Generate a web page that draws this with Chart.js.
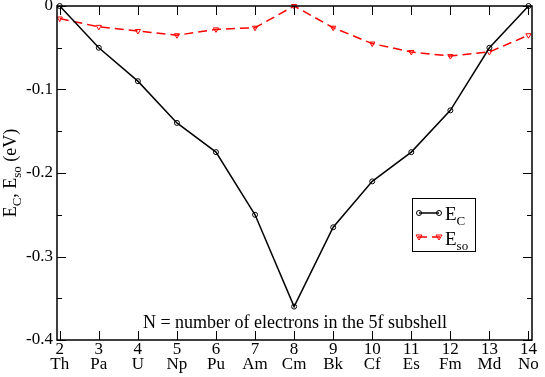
<!DOCTYPE html>
<html>
<head>
<meta charset="utf-8">
<script src="https://cdn.jsdelivr.net/npm/chart.js@4/dist/chart.umd.min.js"></script>
<style>
  html, body { margin: 0; padding: 0; background: #fff; }
  #wrap { width: 545px; height: 377px; }
</style>
</head>
<body>
<div id="wrap"><canvas id="myChart"></canvas></div>
<script>
// data
const nValues = [2, 3, 4, 5, 6, 7, 8, 9, 10, 11, 12, 13, 14];
const elements = ['Th', 'Pa', 'U', 'Np', 'Pu', 'Am', 'Cm', 'Bk', 'Cf', 'Es', 'Fm', 'Md', 'No'];
const eC = [0, -0.05, -0.09, -0.14, -0.175, -0.25, -0.36, -0.265, -0.21, -0.175, -0.125, -0.05, 0];
const eSo = [-0.015, -0.025, -0.03, -0.035, -0.028, -0.026, 0, -0.026, -0.045, -0.055, -0.06, -0.055, -0.035];
const yTicks = [0, -0.05, -0.1, -0.15, -0.2, -0.25, -0.3, -0.35, -0.4];

const serif = '"Liberation Serif", "DejaVu Serif", serif';

function pts(ys) {
  return nValues.map(function (n, i) { return { x: n, y: ys[i] }; });
}

// text with a subscript, drawn left to right
function subText(ctx, x, y, main, sub, size) {
  ctx.font = size + 'px ' + serif;
  ctx.fillText(main, x, y);
  let w = ctx.measureText(main).width;
  ctx.font = Math.round(size * 0.7) + 'px ' + serif;
  ctx.fillText(sub, x + w, y + size * 0.25);
  return w + ctx.measureText(sub).width;
}

const framePlugin = {
  id: 'frame',
  afterDraw: function (chart) {
    const ctx = chart.ctx;
    const a = chart.chartArea;
    const xs = chart.scales.x, ys = chart.scales.y;
    ctx.save();
    ctx.strokeStyle = '#000';
    ctx.lineWidth = 1.5;
    ctx.strokeRect(a.left, a.top, a.right - a.left, a.bottom - a.top);
    ctx.lineWidth = 1;
    ctx.beginPath();
    nValues.forEach(function (n) {
      const px = Math.round(xs.getPixelForValue(n)) + 0.5;
      ctx.moveTo(px, a.bottom); ctx.lineTo(px, a.bottom - 9);
      ctx.moveTo(px, a.top); ctx.lineTo(px, a.top + 9);
    });
    yTicks.forEach(function (v, i) {
      const py = Math.round(ys.getPixelForValue(v)) + 0.5;
      const len = (i % 2 === 0) ? 9 : 5;
      ctx.moveTo(a.left, py); ctx.lineTo(a.left + len, py);
      ctx.moveTo(a.right, py); ctx.lineTo(a.right - len, py);
    });
    ctx.stroke();

    // y axis title
    ctx.fillStyle = '#000';
    ctx.textBaseline = 'alphabetic';
    ctx.save();
    ctx.translate(16, (a.top + a.bottom) / 2);
    ctx.rotate(-Math.PI / 2);
    const size = 18;
    let parts = [['E', 'C'], [', E', 'so'], [' (eV)', '']];
    let total = 0;
    parts.forEach(function (p) {
      ctx.font = size + 'px ' + serif;
      total += ctx.measureText(p[0]).width;
      ctx.font = Math.round(size * 0.7) + 'px ' + serif;
      total += ctx.measureText(p[1]).width;
    });
    let x = -total / 2;
    parts.forEach(function (p) { x += subText(ctx, x, 0, p[0], p[1], size); });
    ctx.restore();

    // note inside the plot
    ctx.font = '18px ' + serif;
    ctx.textAlign = 'center';
    ctx.fillText('N = number of electrons in the 5f subshell', 295, 328);
    ctx.textAlign = 'left';

    // legend box
    ctx.lineWidth = 1;
    ctx.strokeRect(412.5, 198.5, 63, 53);
    ctx.lineWidth = 1.5;
    ctx.beginPath(); ctx.moveTo(419, 213); ctx.lineTo(439, 213); ctx.stroke();
    ctx.lineWidth = 1;
    [419, 439].forEach(function (cx) {
      ctx.beginPath(); ctx.arc(cx, 213, 2.5, 0, Math.PI * 2); ctx.stroke();
    });
    ctx.strokeStyle = '#ff0000';
    ctx.lineWidth = 1.5;
    ctx.setLineDash([9, 5]);
    ctx.beginPath(); ctx.moveTo(418, 237); ctx.lineTo(440, 237); ctx.stroke();
    ctx.setLineDash([]);
    ctx.lineWidth = 1;
    [419, 439].forEach(function (cx) {
      ctx.beginPath();
      ctx.moveTo(cx - 3, 235); ctx.lineTo(cx + 3, 235); ctx.lineTo(cx, 240); ctx.closePath();
      ctx.stroke();
    });
    ctx.fillStyle = '#000';
    subText(ctx, 445, 220, 'E', 'C', 19);
    subText(ctx, 445, 245, 'E', 'so', 19);
    ctx.restore();
  }
};

function noPad(s) {
  s.paddingTop = 0; s.paddingBottom = 0; s.paddingLeft = 0; s.paddingRight = 0;
}

const config = {
  type: 'line',
  data: {
    datasets: [{
      label: 'EC',
      data: pts(eC),
      borderColor: '#000',
      borderWidth: 1.5,
      pointStyle: 'circle',
      pointRadius: 2.5,
      pointBorderWidth: 1,
      pointBorderColor: '#000',
      pointBackgroundColor: 'rgba(0,0,0,0)',
      clip: false
    }, {
      label: 'Eso',
      data: pts(eSo),
      borderColor: '#ff0000',
      borderWidth: 1.5,
      borderDash: [9, 5],
      pointStyle: 'triangle',
      rotation: 180,
      pointRadius: 3,
      pointBorderWidth: 1,
      pointBorderColor: '#ff0000',
      pointBackgroundColor: 'rgba(0,0,0,0)',
      clip: false
    }]
  },
  options: {
    responsive: false,
    animation: false,
    devicePixelRatio: 1,
    layout: { padding: { left: 0, right: 13, top: 6, bottom: 0 } },
    plugins: { legend: { display: false }, tooltip: { enabled: false } },
    scales: {
      x: {
        type: 'linear',
        min: 1.93,
        max: 14.09,
        grid: { display: false, drawTicks: false },
        border: { display: false },
        afterBuildTicks: function (s) { s.ticks = nValues.map(function (n) { return { value: n }; }); },
        afterFit: function (s) { s.height = 37; noPad(s); },
        ticks: {
          autoSkip: false,
          maxRotation: 0,
          padding: 2,
          color: '#000',
          font: { family: serif, size: 17, lineHeight: 0.9 },
          callback: function (v) { return [String(v), elements[nValues.indexOf(v)]]; }
        }
      },
      y: {
        min: -0.4,
        max: 0,
        grid: { display: false, drawTicks: false },
        border: { display: false },
        afterBuildTicks: function (s) { s.ticks = yTicks.map(function (v) { return { value: v }; }); },
        afterFit: function (s) { s.width = 57; noPad(s); },
        ticks: {
          padding: 4,
          color: '#000',
          font: { family: serif, size: 17 },
          callback: function (v) {
            const r = Math.round(v * 100);
            if (r % 10 !== 0) return '';
            return r === 0 ? '0' : (r / 100).toFixed(1);
          }
        }
      }
    }
  },
  plugins: [framePlugin]
};

const canvas = document.getElementById('myChart');
canvas.width = 545;
canvas.height = 377;
var myChart = new Chart(canvas, config);
</script>
</body>
</html>
